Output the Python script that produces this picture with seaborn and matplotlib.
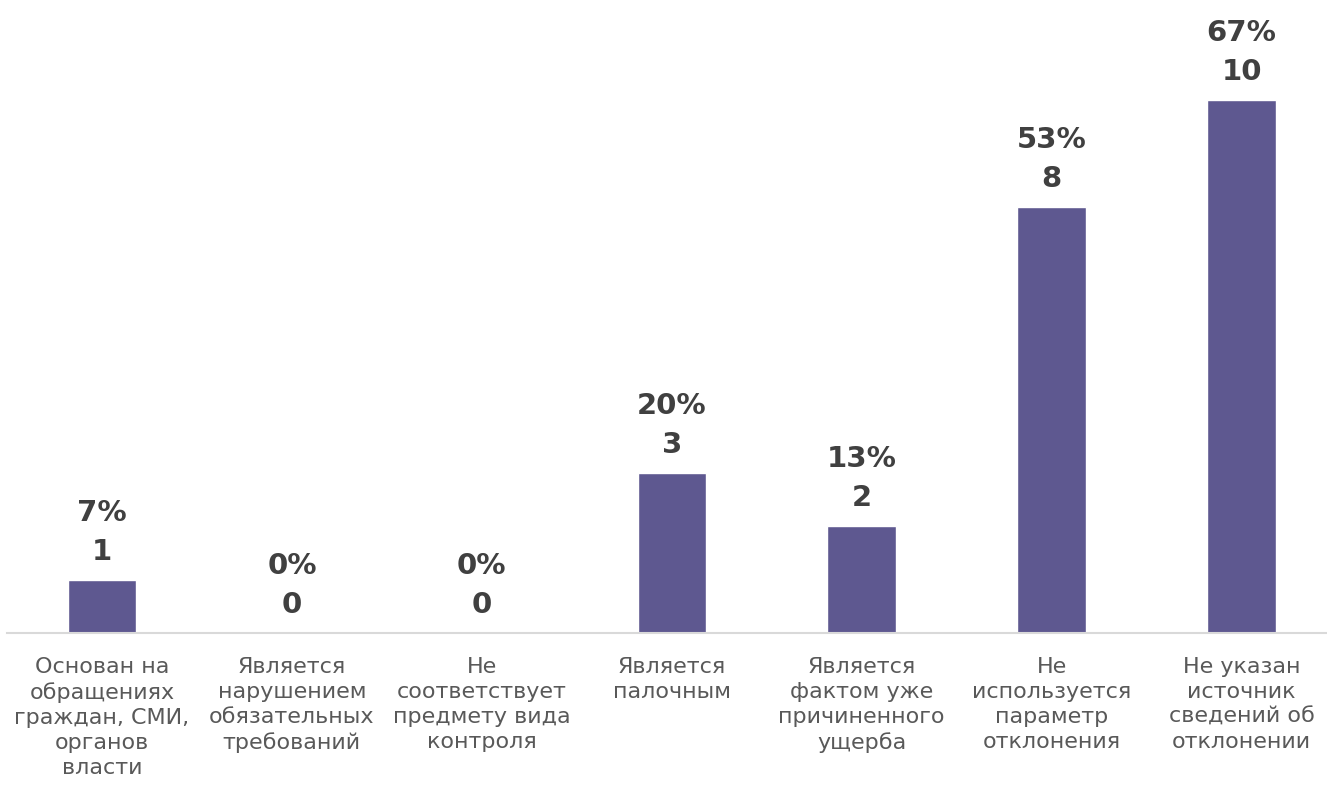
import pandas as pd
import seaborn as sns
import matplotlib.pyplot as plt

# Data
categories = [
    'Основан на\nобращениях\nграждан, СМИ,\nорганов\nвласти',
    'Является\nнарушением\nобязательных\nтребований',
    'Не\nсоответствует\nпредмету вида\nконтроля',
    'Является\nпалочным',
    'Является\nфактом уже\nпричиненного\nущерба',
    'Не\nиспользуется\nпараметр\nотклонения',
    'Не указан\nисточник\nсведений об\nотклонении',
]
counts = [1, 0, 0, 3, 2, 8, 10]
percents = [7, 0, 0, 20, 13, 53, 67]

data = pd.DataFrame({'cat': categories, 'n': counts, 'pct': percents})

sns.set_style('white')
plt.rcParams['font.family'] = ['DejaVu Sans']

fig = plt.figure(figsize=(13.27, 7.91), dpi=100)
ax = fig.add_axes([7 / 1327, 158 / 791, 1320 / 1327, 633 / 791])

sns.barplot(data=data, x='cat', y='n', color='#5E5890', saturation=1,
            width=0.36, ax=ax)

# value labels: percent + count
for i, row in data.iterrows():
    ax.annotate(f"{row['pct']}%\n{row['n']}", xy=(i, row['n']),
                xytext=(0, 14), textcoords='offset pixels',
                ha='center', va='bottom', fontsize=21, fontweight='bold',
                color='#404040', linespacing=1.5)

ax.set_xlim(-0.5, 6.45)
ax.set_ylim(0, 11.875)
ax.set_xlabel('')
ax.set_ylabel('')
ax.set_yticks([])
ax.tick_params(axis='x', length=0, pad=17, labelsize=16, labelcolor='#595959')
for lbl in ax.get_xticklabels():
    lbl.set_linespacing(1.32)

for s in ['top', 'right', 'left']:
    ax.spines[s].set_visible(False)
ax.spines['bottom'].set_color('#D9D9D9')
ax.spines['bottom'].set_linewidth(1.5)

plt.savefig('out.png', dpi=100)
